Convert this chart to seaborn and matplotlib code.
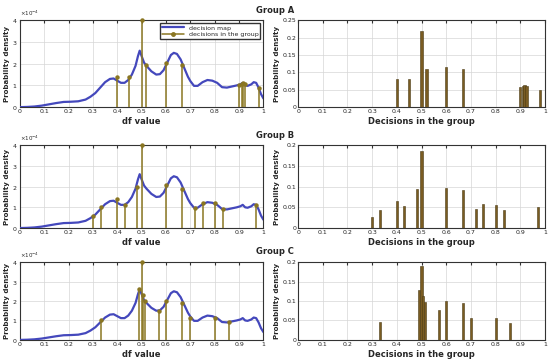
import numpy as np
import matplotlib
matplotlib.use('Agg')
import matplotlib.pyplot as plt
import seaborn as sns
from matplotlib.ticker import ScalarFormatter
from matplotlib.lines import Line2D

# decision map density (x1e-4)
curve_x = [0.00, 0.03, 0.06, 0.09, 0.12, 0.15, 0.18, 0.21, 0.24, 0.27, 0.29, 0.31,
           0.33, 0.35, 0.37, 0.385, 0.40, 0.415, 0.43, 0.445, 0.46, 0.475, 0.485,
           0.492, 0.50, 0.51, 0.52, 0.54, 0.56, 0.575, 0.59, 0.605, 0.62, 0.632,
           0.645, 0.66, 0.675, 0.69, 0.70, 0.715, 0.73, 0.75, 0.77, 0.79, 0.81,
           0.83, 0.85, 0.87, 0.89, 0.905, 0.915, 0.925, 0.935, 0.95, 0.96, 0.97,
           0.98, 0.99, 1.00]
curve_y = [0.00, 0.01, 0.03, 0.07, 0.13, 0.19, 0.24, 0.25, 0.27, 0.35, 0.48, 0.65,
           0.90, 1.15, 1.30, 1.32, 1.22, 1.12, 1.12, 1.25, 1.50, 1.90, 2.35,
           2.60, 2.35, 2.05, 1.90, 1.65, 1.50, 1.52, 1.70, 2.05, 2.40, 2.50,
           2.45, 2.20, 1.80, 1.40, 1.20, 0.98, 0.98, 1.15, 1.25, 1.22, 1.12,
           0.92, 0.90, 0.95, 1.00, 1.05, 1.12, 1.00, 0.98, 1.05, 1.15, 1.12,
           0.90, 0.60, 0.40]

# group decisions: positions, stem heights (x1e-4), bar heights
a_x = [0.40, 0.45, 0.50, 0.52, 0.60, 0.667, 0.90, 0.91, 0.917, 0.925, 0.98]
a_stem = [1.40, 1.40, 4.00, 1.95, 2.05, 1.95, 1.00, 1.05, 1.10, 1.05, 0.90]
a_bar = [0.08, 0.08, 0.22, 0.11, 0.115, 0.11, 0.057, 0.06, 0.065, 0.06, 0.05]

b_x = [0.30, 0.333, 0.40, 0.43, 0.48, 0.50, 0.60, 0.667, 0.72, 0.75, 0.80, 0.833, 0.97]
b_stem = [0.60, 1.00, 1.40, 1.10, 2.00, 4.00, 2.10, 1.90, 0.95, 1.20, 1.20, 0.90, 1.10]
b_bar = [0.027, 0.044, 0.066, 0.053, 0.095, 0.185, 0.097, 0.092, 0.045, 0.057, 0.056, 0.043, 0.05]

c_x = [0.333, 0.49, 0.50, 0.505, 0.515, 0.57, 0.60, 0.667, 0.70, 0.80, 0.857]
c_stem = [1.00, 2.60, 4.00, 2.30, 2.00, 1.50, 2.00, 1.90, 1.15, 1.15, 0.90]
c_bar = [0.046, 0.127, 0.19, 0.113, 0.097, 0.076, 0.10, 0.094, 0.057, 0.057, 0.043]

groups = ['Group A', 'Group B', 'Group C']
xticks = np.round(np.arange(0, 1.01, 0.1), 1)
xlabels = ['0'] + [str(v) for v in xticks[1:-1]] + ['1']

sns.set_style('whitegrid')
plt.rcParams['font.family'] = ['DejaVu Sans']

line_col = '#4448bc'
stem_col = '#8a7622'
bar_col = '#7a5c22'

fig = plt.figure(figsize=(5.5, 3.62), dpi=100)

rows = [(0.704, 0.240), (0.370, 0.229), (0.061, 0.215)]
data = [(a_x, a_stem, a_bar, 0.25), (b_x, b_stem, b_bar, 0.2), (c_x, c_stem, c_bar, 0.2)]


def style_axis(ax):
    ax.set_xlim(0, 1)
    ax.set_xticks(xticks)
    ax.set_xticklabels(xlabels)
    ax.tick_params(axis='both', labelsize=4.5, direction='in', length=2,
                   color='#333333', pad=1.5, top=True, right=False)
    for s in ax.spines.values():
        s.set_color('#333333')
        s.set_linewidth(0.8)
    ax.grid(True, color='#d6d6d6', linewidth=0.5)


for i, (bottom, height) in enumerate(rows):
    xs, stems, bars, ymax = data[i]

    # left: decision map with stems
    ax = fig.add_axes([0.036, bottom, 0.443, height])
    sns.lineplot(x=np.array(curve_x), y=np.array(curve_y) * 1e-4, ax=ax,
                 color=line_col, linewidth=1.6, zorder=3)
    ax.vlines(xs, 0, np.array(stems) * 1e-4, color=stem_col, linewidth=1.1, zorder=4)
    ax.plot(xs, np.array(stems) * 1e-4, 'o', color=stem_col, markersize=2.2,
            zorder=5, clip_on=False)
    ax.set_ylim(0, 4e-4)
    ax.set_yticks(np.arange(0, 4.1, 1) * 1e-4)
    fmt = ScalarFormatter(useMathText=True)
    fmt.set_powerlimits((0, 0))
    ax.yaxis.set_major_formatter(fmt)
    ax.yaxis.get_offset_text().set_fontsize(4)
    style_axis(ax)
    ax.set_ylabel('Probability density', fontsize=5, fontweight='bold', labelpad=1.5)
    ax.set_xlabel('df value', fontsize=6, fontweight='bold', labelpad=2)
    if i == 0:
        handles = [Line2D([], [], color=line_col, linewidth=1.6),
                   Line2D([], [], color=stem_col, linewidth=1.1, marker='o', markersize=2.5)]
        ax.legend(handles, ['decision map', 'decisions in the group'],
                  loc='upper right', fontsize=4.5, frameon=True, fancybox=False,
                  edgecolor='#333333', framealpha=1, borderpad=0.3,
                  handlelength=3.5, labelspacing=0.2)

    # right: bars of decisions in the group
    ax2 = fig.add_axes([0.542, bottom, 0.449, height])
    ax2.bar(xs, bars, width=0.009, color=bar_col, edgecolor='#4a3a15',
            linewidth=0.4, zorder=3)
    ax2.set_ylim(0, ymax)
    ax2.set_yticks(np.arange(0, ymax + 0.001, 0.05))
    ax2.set_yticklabels(['0'] + ['%g' % v for v in np.arange(0.05, ymax + 0.001, 0.05)])
    style_axis(ax2)
    ax2.set_ylabel('Probability density', fontsize=5, fontweight='bold', labelpad=1.5)
    ax2.set_xlabel('Decisions in the group', fontsize=6, fontweight='bold', labelpad=2)

    fig.text(0.5, bottom + height + 0.028, groups[i], ha='center', va='center',
             fontsize=6, fontweight='bold')

fig.savefig('out.png', dpi=100)
